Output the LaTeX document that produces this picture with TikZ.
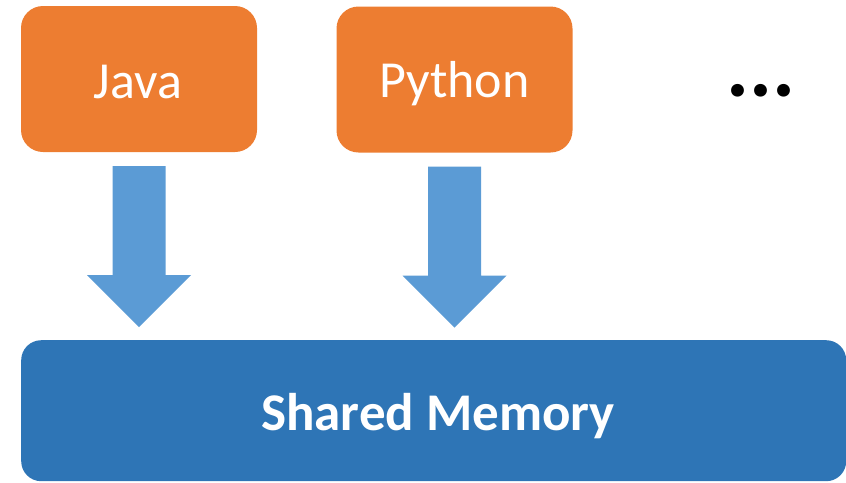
\documentclass[tikz,border=0pt]{standalone}
\usepackage{fontspec}
\setmainfont{Carlito}
\usetikzlibrary{calc}
\definecolor{langorange}{HTML}{ED7D31}
\definecolor{flowblue}{HTML}{5B9BD5}
\definecolor{memblue}{HTML}{2E75B6}
\tikzset{
  langbox/.style={fill=langorange, rounded corners=22pt, minimum width=236pt,
    minimum height=146pt, inner sep=0pt},
  langtext/.style={font=\fontsize{52}{60}\selectfont, text=white, inner sep=0pt, anchor=base},
  membox/.style={fill=memblue, rounded corners=20pt, minimum width=825pt,
    minimum height=141pt, inner sep=0pt},
  memtext/.style={font=\bfseries\fontsize{53}{60}\selectfont, text=white, inner sep=0pt, anchor=base}
}
% a thick down arrow hanging from point #1
\newcommand{\downarrowshape}[1]{%
  \fill[flowblue] ($(#1)+(-26.5pt,-14pt)$) -- ($(#1)+(26.5pt,-14pt)$)
    -- ($(#1)+(26.5pt,-123pt)$) -- ($(#1)+(52pt,-123pt)$)
    -- ($(#1)+(0pt,-175pt)$) -- ($(#1)+(-52pt,-123pt)$)
    -- ($(#1)+(-26.5pt,-123pt)$) -- cycle;}
\begin{document}
\begin{tikzpicture}[x=1pt,y=-1pt]
  \useasboundingbox (0,0) rectangle (846,482);
  \node[langbox] (java) at (139,79) {};
  \node[langtext] (javalabel) at (138,98) {Java};
  \node[langbox] (python) at (454.5,79.5) {};
  \node[langtext] (pythonlabel) at (454.5,97.5) {Python};
  \node[font=\bfseries\fontsize{86}{90}\selectfont, inner sep=0pt, anchor=base] (dots) at (761,96) {...};
  \node[membox, anchor=north west] (mem) at (21,340) {};
  \node[memtext] (memlabel) at (438,430) {Shared Memory};
  \coordinate (ja) at (java.south);
  \coordinate (pa) at (python.south);
  \downarrowshape{ja}
  \downarrowshape{pa}
\end{tikzpicture}
\end{document}
